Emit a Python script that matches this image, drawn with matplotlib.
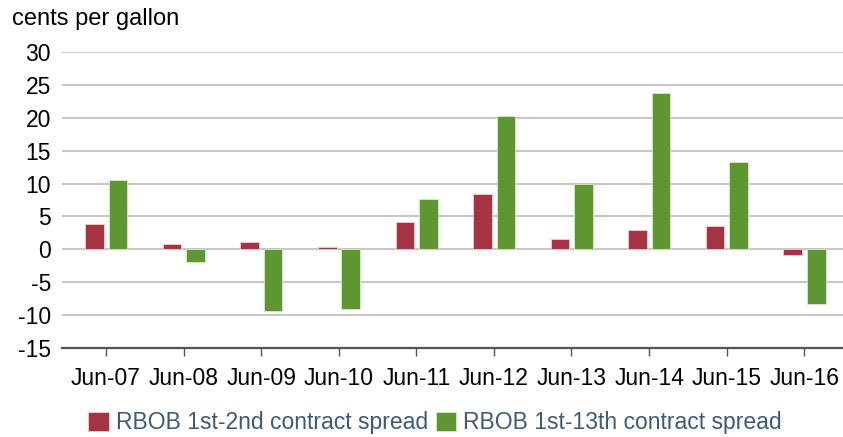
import numpy as np
from matplotlib import pyplot as plt

plt.rcParams['font.family'] = ['Liberation Sans', 'DejaVu Sans']
plt.rcParams['axes.unicode_minus'] = False

years = ['Jun-07', 'Jun-08', 'Jun-09', 'Jun-10', 'Jun-11',
         'Jun-12', 'Jun-13', 'Jun-14', 'Jun-15', 'Jun-16']
spread_1_2 = [3.9, 0.8, 1.1, 0.4, 4.1, 8.4, 1.5, 3.0, 3.6, -0.9]
spread_1_13 = [10.6, -2.0, -9.4, -9.0, 7.6, 20.3, 10.0, 23.7, 13.3, -8.3]

red = '#a53341'
green = '#5e9732'

fig = plt.figure(figsize=(8.43, 4.37), dpi=100)
ax = fig.add_axes([62 / 843, 1 - 348 / 437, 1 - 62 / 843, (348 - 52) / 437])

x = np.arange(len(years))
w = 0.24
ax.bar(x - 0.148, spread_1_2, w, color=red, edgecolor='#f0d0d4', linewidth=0.6,
       label='RBOB 1st-2nd contract spread', zorder=3)
ax.bar(x + 0.155, spread_1_13, w, color=green, edgecolor='#d8ebc8', linewidth=0.6,
       label='RBOB 1st-13th contract spread', zorder=3)

ax.set_xlim(-0.567, 9.5)
ax.set_ylim(-15, 30)
ax.set_yticks(np.arange(-15, 31, 5))
ax.set_xticks(x)
ax.set_xticklabels(years)

ax.grid(axis='y', color='#c8c8c8', linewidth=1.5, zorder=0)
for s in ['top', 'right', 'left']:
    ax.spines[s].set_visible(False)
ax.spines['bottom'].set_color('#555555')
ax.spines['bottom'].set_linewidth(1.6)
ax.spines['bottom'].set_zorder(4)

ax.tick_params(axis='y', length=0, pad=8, labelsize=16.5)
ax.tick_params(axis='x', length=6, width=1, color='#555555', pad=8, labelsize=16.5)

fig.text(12 / 843, 1 - 19 / 437, 'cents per gallon', fontsize=17, va='center', ha='left')

leg = fig.legend(loc='center', bbox_to_anchor=(0.516, 1 - 423 / 437), ncol=2,
                 frameon=False, fontsize=16.5, handlelength=0.9, handleheight=0.9,
                 handletextpad=0.3, columnspacing=0.35, borderaxespad=0)
for t in leg.get_texts():
    t.set_color('#3e5a78')

fig.savefig('out.png', dpi=100)
